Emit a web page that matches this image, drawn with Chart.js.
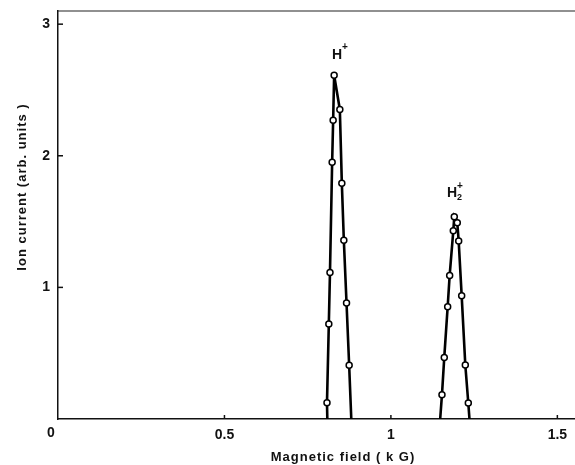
<!DOCTYPE html>
<html>
<head>
<meta charset="utf-8">
<script src="https://cdn.jsdelivr.net/npm/chart.js@4.4.1/dist/chart.umd.min.js"></script>
<style>
  body { margin: 0; background: #fff; }
  #wrap { width: 575px; height: 465px; }
</style>
</head>
<body>
<div id="wrap"><canvas id="myChart" width="575" height="465"></canvas></div>
<script>
// H+ peak (kG, arb. units); first and last points are where the line meets the axis
let hFieldValues = [0.809, 0.808, 0.8135, 0.817, 0.8235, 0.8265, 0.8295, 0.8466, 0.8526, 0.8586, 0.8667, 0.8746, 0.881];
let hCurrentValues = [0, 0.124, 0.721, 1.114, 1.951, 2.27, 2.612, 2.352, 1.792, 1.359, 0.881, 0.408, 0];

// H2+ peak
let h2FieldValues = [1.148, 1.1534, 1.1603, 1.1705, 1.1765, 1.1874, 1.1904, 1.1994, 1.2036, 1.2126, 1.2235, 1.2325, 1.236];
let h2CurrentValues = [0, 0.185, 0.468, 0.853, 1.091, 1.43, 1.536, 1.491, 1.352, 0.936, 0.41, 0.121, 0];

let xTickValues = [0.5, 1, 1.5];
let yTickValues = [1, 2, 3];

let xLabel = "Magnetic field ( k G)";
let yLabel = "Ion current (arb. units )";

function toPoints(xs, ys) {
  return xs.map((x, i) => ({ x: x, y: ys[i] }));
}

// no circle on the two ends that sit on the axis
function endRadius(arr) {
  return arr.map((v, i) => (i === 0 || i === arr.length - 1 ? 0 : 3));
}

const fontFam = "'Liberation Sans', Arial, sans-serif";
const labelFont = "bold 13px " + fontFam;

// frame, inward ticks, axis titles and peak labels
const extras = {
  id: "extras",
  afterDraw(chart) {
    const ctx = chart.ctx;
    const area = chart.chartArea;
    const xs = chart.scales.x;
    const ys = chart.scales.y;
    ctx.save();
    ctx.strokeStyle = "#222";
    ctx.lineWidth = 1.2;
    ctx.beginPath();
    ctx.moveTo(area.left, area.top);
    ctx.lineTo(area.right, area.top);
    ctx.stroke();

    ctx.lineWidth = 1.5;
    ctx.strokeStyle = "#111";
    xTickValues.forEach((v) => {
      const px = xs.getPixelForValue(v);
      ctx.beginPath();
      ctx.moveTo(px, area.bottom);
      ctx.lineTo(px, area.bottom - 4);
      ctx.stroke();
    });
    yTickValues.forEach((v) => {
      const py = ys.getPixelForValue(v);
      ctx.beginPath();
      ctx.moveTo(area.left, py);
      ctx.lineTo(area.left + 5, py);
      ctx.stroke();
    });

    ctx.fillStyle = "#111";
    // shared origin label, sits left of the corner
    ctx.font = "bold 14px " + fontFam;
    ctx.textAlign = "center";
    ctx.textBaseline = "middle";
    ctx.fillText("0", area.left - 7, area.bottom + 14);

    ctx.font = labelFont;
    ctx.letterSpacing = "1px";
    ctx.fillText(xLabel, 343, 457);

    ctx.save();
    ctx.translate(22, 187);
    ctx.rotate(-Math.PI / 2);
    ctx.fillText(yLabel, 0, 0);
    ctx.restore();

    ctx.letterSpacing = "0px";
    ctx.textAlign = "left";
    ctx.textBaseline = "alphabetic";
    ctx.font = "bold 14px " + fontFam;
    ctx.fillText("H", 332, 59);
    ctx.font = "bold 10px " + fontFam;
    ctx.fillText("+", 342, 50);

    ctx.font = "bold 14px " + fontFam;
    ctx.fillText("H", 447, 197);
    ctx.font = "bold 9px " + fontFam;
    ctx.fillText("2", 457, 200);
    ctx.font = "bold 10px " + fontFam;
    ctx.fillText("+", 457, 189);
    ctx.restore();
  },
};

const data = {
  datasets: [
    {
      label: "H+",
      data: toPoints(hFieldValues, hCurrentValues),
      showLine: true,
      borderColor: "#000",
      borderWidth: 2.6,
      pointRadius: endRadius(hFieldValues),
      pointBorderWidth: 1.5,
      pointBorderColor: "#000",
      pointBackgroundColor: "#fff",
      tension: 0,
    },
    {
      label: "H2+",
      data: toPoints(h2FieldValues, h2CurrentValues),
      showLine: true,
      borderColor: "#000",
      borderWidth: 2.6,
      pointRadius: endRadius(h2FieldValues),
      pointBorderWidth: 1.5,
      pointBorderColor: "#000",
      pointBackgroundColor: "#fff",
      tension: 0,
    },
  ],
};

const config = {
  type: "scatter",
  data: data,
  options: {
    responsive: false,
    animation: false,
    layout: { padding: { top: 11, right: 0, left: 0, bottom: 0 } },
    plugins: {
      legend: { display: false },
      tooltip: { enabled: false },
    },
    scales: {
      x: {
        type: "linear",
        min: 0,
        max: 1.553,
        afterFit: (s) => { s.height = 46; },
        grid: { display: false },
        border: { display: true, color: "#111", width: 1.5 },
        ticks: {
          stepSize: 0.5,
          includeBounds: false,
          padding: 0,
          color: "#111",
          font: { family: fontFam, size: 14, weight: "bold" },
          callback: (v) => (xTickValues.includes(v) ? String(v) : ""),
        },
      },
      y: {
        type: "linear",
        min: 0,
        max: 3.1,
        afterFit: (s) => { s.width = 58; },
        grid: { display: false },
        border: { display: true, color: "#111", width: 1.5 },
        ticks: {
          stepSize: 1,
          includeBounds: false,
          padding: 0,
          color: "#111",
          font: { family: fontFam, size: 14, weight: "bold" },
          callback: (v) => (yTickValues.includes(v) ? String(v) : ""),
        },
      },
    },
  },
  plugins: [extras],
};

let myChart = new Chart(document.querySelector("#myChart"), config);
</script>
</body>
</html>
